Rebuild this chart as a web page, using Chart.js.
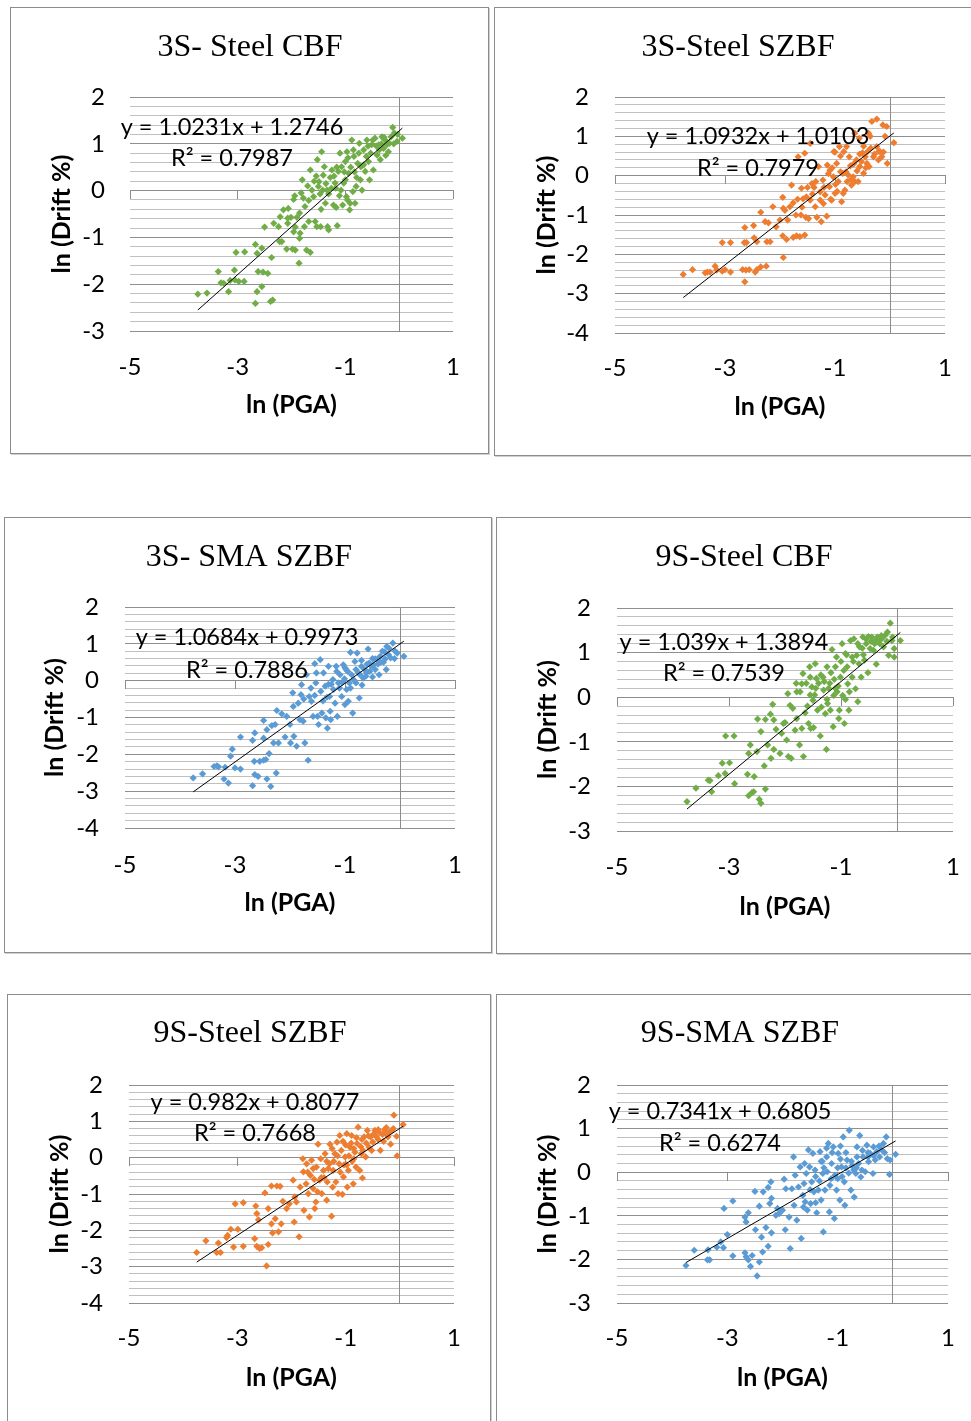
<!DOCTYPE html>
<html>
<head>
<meta charset="utf-8">
<script src="https://cdn.jsdelivr.net/npm/chart.js@4.4.1/dist/chart.umd.min.js"></script>
<style>
  html, body { margin: 0; padding: 0; background: #fff; width: 971px; height: 1421px; overflow: hidden; }
  .panel { position: absolute; box-sizing: border-box; border: 1px solid #8c8c8c; box-shadow: 1px 1px 0 #cfcfcf; }
  canvas { position: absolute; }
</style>
</head>
<body>
<script>
// ---- Data: ln(PGA) vs ln(Drift %) for each frame ----
const titles = ['3S- Steel CBF', '3S-Steel SZBF', '3S- SMA SZBF', '9S-Steel CBF', '9S-Steel SZBF', '9S-SMA SZBF'];
const slopes = [1.0231, 1.0932, 1.0684, 1.039, 0.982, 0.7341];
const intercepts = [1.2746, 1.0103, 0.9973, 1.3894, 0.8077, 0.6805];
const rSquared = [0.7987, 0.7979, 0.7886, 0.7539, 0.7668, 0.6274];
const yMins = [-3, -4, -4, -3, -4, -3];
const yMax = 2;
const xMin = -5, xMax = 1;
const xTitle = 'ln (PGA)';
const yTitle = 'ln (Drift %)';

const steelCbf3S = [
  [-3.74,-2.21],[-3.57,-2.19],[-3.36,-1.73],[-3.31,-1.97],[-3.26,-1.98],[-3.17,-2.16],[-3.14,-1.92],[-3.06,-1.70],
  [-3.05,-1.91],[-2.98,-1.94],[-2.88,-1.94],[-3.03,-1.32],[-2.87,-1.31],[-2.67,-1.15],[-2.64,-1.34],[-2.62,-1.73],
  [-2.53,-1.74],[-2.44,-1.77],[-2.55,-2.05],[-2.64,-2.16],[-2.67,-2.41],[-2.39,-2.37],[-2.35,-2.34],[-2.55,-1.23],
  [-2.50,-0.78],[-2.37,-1.43],[-2.33,-0.70],[-2.22,-1.09],[-2.18,-1.09],[-2.24,-0.77],[-2.21,-0.56],[-2.15,-0.41],
  [-2.07,-0.70],[-2.07,-0.59],[-2.09,-1.25],[-2.01,-0.57],[-1.98,-1.25],[-1.93,-1.27],[-1.86,-1.55],[-1.96,-0.19],
  [-1.94,-0.11],[-1.96,-0.88],[-1.93,-0.78],[-1.90,-0.57],[-1.84,-0.91],[-1.85,-0.48],[-1.80,0.23],[-1.78,-0.16],
  [-1.76,-0.77],[-1.72,-1.27],[-1.65,-1.32],[-1.75,-0.34],[-1.68,-0.21],[-1.65,0.44],[-1.62,0.01],[-1.59,-0.13],
  [-1.56,-0.66],[-1.53,-0.77],[-1.52,0.66],[-1.50,0.09],[-1.47,-0.07],[-1.46,-0.77],[-1.44,0.83],[-1.42,0.01],
  [-1.41,0.33],[-1.37,-0.27],[-1.34,0.01],[-1.33,-0.77],[-1.31,-0.84],[-1.28,0.28],[-1.25,0.44],[-1.22,-0.31],
  [-1.19,0.16],[-1.17,-0.36],[-1.15,-0.75],[-1.13,0.41],[-1.11,-0.11],[-1.10,0.80],[-1.07,0.51],[-1.03,0.16],
  [-1.00,0.62],[-0.98,-0.13],[-0.97,0.83],[-0.94,0.37],[-0.92,-0.41],[-0.91,-0.27],[-0.88,1.08],[-0.86,-0.02],
  [-0.84,0.73],[-0.82,-0.27],[-0.80,0.09],[-0.77,0.58],[-0.74,1.01],[-0.72,0.23],[-0.69,0.01],[-0.66,0.87],
  [-0.63,0.41],[-0.60,1.08],[-0.57,0.62],[-0.55,0.23],[-0.51,0.98],[-0.48,0.44],[-0.45,1.12],[-0.41,0.76],
  [-0.38,0.98],[-0.35,0.66],[-0.32,1.15],[-0.29,0.90],[-0.26,1.08],[-0.23,0.98],[-0.20,0.83],[-0.12,1.35],
  [-0.09,1.23],[-0.04,1.05],[0.06,1.12],[-1.54,0.31],[-1.49,0.19],[-1.39,0.51],[-1.31,-0.07],[-1.26,0.05],
  [-1.21,0.31],[-1.16,0.50],[-1.08,0.01],[-1.05,-0.31],[-1.00,0.23],[-0.96,-0.20],[-0.90,0.50],[-0.85,0.87],
  [-0.79,0.28],[-0.71,0.51],[-0.61,0.73],[-0.53,0.80],[-0.49,1.08],[-0.37,0.87],[-0.28,1.14],[-0.18,1.01],
  [-0.15,1.15],[-1.85,-1.02],[-2.06,-0.38],[-1.68,-0.66],[-1.82,-0.05],[-1.70,0.10],[-1.58,0.20],[-1.45,-0.40],
  [-1.36,0.15],[-1.18,0.05],[-1.02,0.40],[-0.95,0.70],[-0.83,0.40],[-0.75,0.80],[-0.66,0.55],[-0.58,0.95],
  [-0.42,0.95],[-0.33,1.00],[-0.25,0.75],[-0.10,1.00],[-0.03,1.20]
];

const steelSzbf3S = [
  [-3.76,-2.51],[-3.59,-2.39],[-3.36,-2.47],[-3.32,-2.45],[-3.27,-2.45],[-3.18,-2.30],[-3.15,-2.40],[-3.05,-2.43],
  [-3.00,-2.39],[-2.90,-2.45],[-3.05,-1.70],[-2.90,-1.70],[-2.68,-2.39],[-2.62,-2.40],[-2.56,-2.39],[-2.45,-2.45],
  [-2.42,-2.39],[-2.35,-2.32],[-2.25,-2.30],[-2.64,-2.70],[-2.65,-1.70],[-2.61,-1.70],[-2.64,-1.32],[-2.48,-1.27],
  [-2.47,-1.58],[-2.42,-1.68],[-2.35,-0.93],[-2.27,-1.17],[-2.24,-1.68],[-2.18,-1.68],[-2.21,-1.20],[-2.13,-0.79],
  [-2.07,-1.30],[-2.00,-1.13],[-1.95,-0.55],[-1.94,-0.83],[-1.95,-1.53],[-1.94,-2.08],[-1.91,-0.88],[-1.88,-1.62],
  [-1.86,-1.13],[-1.82,-0.79],[-1.79,-0.24],[-1.76,-0.69],[-1.76,-1.57],[-1.71,-1.00],[-1.70,-1.53],[-1.67,0.48],
  [-1.64,-1.55],[-1.61,-0.32],[-1.58,-0.59],[-1.55,-1.51],[-1.53,-1.06],[-1.55,0.57],[-1.52,-0.54],[-1.48,-1.09],
  [-1.45,0.82],[-1.45,-0.62],[-1.42,-0.20],[-1.41,-0.47],[-1.36,-0.79],[-1.33,-1.06],[-1.30,0.23],[-1.27,-0.41],
  [-1.25,-1.17],[-1.22,-0.11],[-1.21,-0.71],[-1.18,-0.49],[-1.15,-1.03],[-1.14,0.27],[-1.10,-0.28],[-1.09,0.14],
  [-1.06,-0.62],[-1.03,-0.03],[-1.02,0.61],[-1.00,-0.45],[-0.97,0.31],[-0.94,-0.15],[-0.92,0.74],[-0.88,-0.66],
  [-0.86,0.06],[-0.84,0.61],[-0.82,-0.37],[-0.79,0.74],[-0.78,-0.15],[-0.74,0.48],[-0.70,-0.24],[-0.67,-0.03],
  [-0.64,1.08],[-0.64,-0.15],[-0.61,0.40],[-0.58,-0.15],[-0.56,0.95],[-0.55,0.23],[-0.52,0.36],[-0.48,0.06],
  [-0.45,0.48],[-0.42,0.31],[-0.41,0.61],[-0.39,1.08],[-0.38,0.23],[-0.36,1.00],[-0.33,1.38],[-0.30,0.48],
  [-0.24,1.44],[-0.24,0.74],[-0.21,0.40],[-0.18,0.61],[-0.15,0.48],[-0.13,1.29],[-0.09,1.00],[-0.06,1.25],
  [-0.05,0.31],[0.07,0.84],[-1.12,0.05],[-1.05,0.20],[-0.99,-0.22],[-0.90,0.10],[-0.76,0.02],[-0.71,-0.10],
  [-0.60,0.12],[-0.50,0.58],[-0.44,0.20],[-1.38,-0.30],[-1.27,-0.62],[-1.60,-0.80],[-1.68,-0.60],[-0.20,0.62],
  [-1.20,-0.30],[-1.08,-0.60],[-0.96,-0.40],[-0.85,-0.45],[-0.80,0.10],[-0.72,0.25],[-0.66,0.30],[-0.55,0.55],
  [-0.48,0.75],[-0.35,0.70],[-0.28,0.55],[-0.12,0.60],[-1.50,-0.30],[-1.35,-0.15],[-1.62,-1.00],[-1.00,0.60],
  [-0.90,0.50]
];

const smaSzbf3S = [
  [-3.76,-2.64],[-3.59,-2.53],[-3.38,-2.33],[-3.33,-2.31],[-3.30,-2.34],[-3.20,-2.67],[-3.12,-2.78],[-3.18,-2.35],
  [-3.08,-2.05],[-3.05,-1.86],[-3.00,-2.37],[-2.90,-2.40],[-2.90,-1.53],[-2.68,-2.85],[-2.64,-2.55],[-2.58,-2.60],
  [-2.65,-2.19],[-2.55,-2.19],[-2.48,-2.16],[-2.44,-2.14],[-2.42,-2.67],[-2.35,-2.87],[-2.25,-2.51],[-2.38,-1.98],
  [-2.68,-1.62],[-2.64,-1.42],[-2.48,-1.08],[-2.42,-1.33],[-2.48,-1.56],[-2.33,-1.22],[-2.27,-1.19],[-2.30,-1.69],
  [-2.21,-1.69],[-2.24,-0.81],[-2.15,-0.90],[-2.09,-1.53],[-2.06,-0.97],[-2.00,-1.19],[-1.99,-1.69],[-1.95,-0.33],
  [-1.94,-0.70],[-1.93,-1.51],[-1.88,-1.78],[-1.85,-0.61],[-1.82,-1.06],[-1.80,-0.38],[-1.79,-0.11],[-1.76,-1.10],
  [-1.73,-1.69],[-1.70,0.16],[-1.67,-2.16],[-1.65,-0.43],[-1.61,-0.56],[-1.58,-0.97],[-1.55,0.46],[-1.53,-0.06],
  [-1.52,0.21],[-1.50,-0.97],[-1.48,-1.19],[-1.45,0.57],[-1.44,-0.29],[-1.42,-0.88],[-1.39,0.21],[-1.36,-0.15],
  [-1.35,-1.01],[-1.32,-1.29],[-1.30,0.39],[-1.28,-0.43],[-1.27,-0.83],[-1.26,-1.06],[-1.22,0.03],[-1.21,-0.24],
  [-1.18,-0.61],[-1.16,0.39],[-1.14,-0.97],[-1.12,-0.06],[-1.09,0.16],[-1.06,-0.43],[-1.03,0.43],[-1.00,-0.65],
  [-0.97,-0.24],[-0.94,-0.56],[-0.92,-0.06],[-0.90,0.77],[-0.88,0.16],[-0.86,-0.88],[-0.82,0.52],[-0.80,-0.06],
  [-0.78,0.75],[-0.74,-0.47],[-0.73,0.16],[-0.70,0.39],[-0.67,0.07],[-0.64,0.30],[-0.61,0.21],[-0.58,0.86],
  [-0.56,0.48],[-0.52,0.39],[-0.48,0.43],[-0.45,0.59],[-0.42,0.57],[-0.38,0.16],[-0.36,0.66],[-0.32,0.80],
  [-0.27,0.59],[-0.25,0.30],[-0.24,0.93],[-0.21,0.71],[-0.17,0.62],[-0.13,1.02],[-0.09,0.80],[-0.05,0.75],
  [0.07,0.66],[-1.10,-0.20],[-1.01,0.05],[-0.95,0.25],[-0.84,0.02],[-0.76,0.22],[-0.69,-0.12],[-0.62,0.12],
  [-0.55,0.25],[-0.50,0.10],[-1.33,-0.45],[-1.25,-0.10],[-1.05,-0.05],[-0.98,0.30],[-0.40,0.45],[-0.30,0.50],
  [-1.55,-0.40],[-1.40,-0.55],[-1.30,-0.10],[-1.15,0.25],[-1.00,0.35],[-0.90,-0.20],[-0.80,0.30],[-0.70,0.55],
  [-0.60,0.45],[-0.50,0.60],[-0.45,0.30],[-0.35,0.50],[-0.28,0.78],[-0.20,0.88],[-0.10,0.60],[-1.62,-0.20],
  [-1.75,-0.50]
];

const steelCbf9S = [
  [-3.75,-2.34],[-3.59,-2.04],[-3.37,-1.86],[-3.34,-1.87],[-3.31,-2.12],[-3.19,-1.76],[-3.12,-1.48],[-3.07,-1.71],
  [-2.99,-1.47],[-3.06,-0.87],[-2.91,-0.87],[-2.90,-1.94],[-2.67,-1.73],[-2.55,-1.78],[-2.65,-2.21],[-2.59,-2.14],
  [-2.56,-2.12],[-2.46,-2.29],[-2.43,-2.38],[-2.35,-2.06],[-2.37,-1.54],[-2.65,-1.26],[-2.62,-1.07],[-2.50,-1.22],
  [-2.49,-0.49],[-2.43,-0.77],[-2.35,-0.50],[-2.31,-1.07],[-2.26,-0.38],[-2.25,-1.37],[-2.22,-0.16],[-2.20,-0.51],
  [-2.20,-1.17],[-2.16,-0.72],[-2.09,-1.26],[-2.06,-0.81],[-2.03,-0.59],[-2.00,-0.57],[-1.97,-0.96],[-1.95,0.08],
  [-1.94,-1.33],[-1.91,-0.18],[-1.89,-1.37],[-1.86,-0.25],[-1.82,-0.74],[-1.80,0.31],[-1.79,0.12],[-1.79,-0.48],
  [-1.74,-1.07],[-1.73,0.12],[-1.70,-0.70],[-1.68,0.53],[-1.67,-1.33],[-1.64,-0.35],[-1.62,0.31],[-1.58,-0.59],
  [-1.56,0.68],[-1.55,0.45],[-1.54,-0.70],[-1.52,0.23],[-1.50,-0.07],[-1.49,-0.68],[-1.46,0.75],[-1.44,0.42],
  [-1.42,-0.29],[-1.40,0.31],[-1.37,-0.87],[-1.35,-0.22],[-1.32,0.45],[-1.31,0.16],[-1.28,-0.37],[-1.26,-1.17],
  [-1.25,0.68],[-1.24,-0.14],[-1.20,0.31],[-1.19,-0.29],[-1.16,1.07],[-1.14,-0.66],[-1.13,0.04],[-1.10,0.68],
  [-1.08,0.90],[-1.07,0.12],[-1.04,-0.48],[-1.03,-0.29],[-1.01,0.45],[-0.98,1.20],[-0.97,0.04],[-0.94,-0.59],
  [-0.92,0.98],[-0.89,0.68],[-0.86,-0.29],[-0.85,0.12],[-0.83,1.27],[-0.80,0.45],[-0.77,1.31],[-0.74,0.19],
  [-0.72,0.94],[-0.70,-0.10],[-0.67,1.13],[-0.64,0.45],[-0.61,1.35],[-0.58,0.83],[-0.55,1.20],[-0.52,0.55],
  [-0.51,1.36],[-0.48,1.09],[-0.45,1.35],[-0.42,1.05],[-0.39,1.27],[-0.37,0.74],[-0.35,1.35],[-0.31,1.20],
  [-0.27,1.31],[-0.24,1.13],[-0.21,1.39],[-0.17,1.46],[-0.15,0.94],[-0.12,1.66],[-0.09,1.27],[-0.05,1.09],
  [-0.05,0.90],[0.06,1.27],[-1.22,0.20],[-1.12,0.40],[-1.05,0.25],[-0.95,0.60],[-0.88,0.30],[-0.78,0.80],
  [-0.68,0.75],[-0.60,0.95],[-0.46,1.25],[-0.33,1.28],[-1.47,0.05],[-1.36,0.50],[-1.60,-0.20],[-0.92,-0.05],
  [-1.70,0.30],[-1.55,0.05],[-1.45,0.20],[-1.30,0.35],[-1.18,0.55],[-1.10,0.20],[-1.00,0.80],[-0.90,0.95],
  [-0.80,0.90],[-0.70,1.20],[-0.62,1.10],[-0.55,1.30],[-0.40,1.20],[-0.28,1.38],[-0.18,1.25],[-0.08,1.35],
  [-1.25,-0.05]
];

const steelSzbf9S = [
  [-3.75,-2.61],[-3.58,-2.29],[-3.35,-2.35],[-3.38,-2.61],[-3.31,-2.61],[-3.20,-2.20],[-3.18,-2.14],[-3.12,-1.97],
  [-3.07,-2.46],[-2.99,-1.97],[-3.04,-1.27],[-2.89,-1.24],[-2.89,-2.44],[-2.68,-2.23],[-2.64,-2.44],[-2.59,-2.50],
  [-2.55,-2.48],[-2.46,-2.98],[-2.43,-2.39],[-2.66,-1.33],[-2.64,-1.54],[-2.61,-1.71],[-2.49,-0.97],[-2.43,-1.40],
  [-2.37,-1.82],[-2.35,-2.07],[-2.30,-1.68],[-2.24,-2.04],[-2.37,-0.78],[-2.27,-0.78],[-2.21,-0.79],[-2.19,-1.82],
  [-2.16,-1.20],[-2.09,-1.40],[-2.04,-1.27],[-1.97,-0.62],[-1.95,-1.77],[-1.94,-1.08],[-1.91,-1.22],[-1.86,-2.18],
  [-1.84,-0.81],[-1.79,-0.03],[-1.78,-0.39],[-1.77,-1.45],[-1.73,-0.72],[-1.72,-0.17],[-1.69,-0.99],[-1.67,-1.63],
  [-1.65,-0.49],[-1.63,-0.07],[-1.60,-0.85],[-1.57,-1.40],[-1.55,-1.22],[-1.54,-0.26],[-1.52,-0.94],[-1.51,0.37],
  [-1.48,-0.62],[-1.46,-0.03],[-1.44,-0.99],[-1.41,-0.35],[-1.38,0.11],[-1.35,-1.17],[-1.34,-0.67],[-1.30,-0.17],
  [-1.29,0.37],[-1.26,-1.61],[-1.24,-0.81],[-1.23,-0.35],[-1.20,0.11],[-1.18,-0.67],[-1.16,0.43],[-1.14,-0.99],
  [-1.12,-0.17],[-1.11,0.61],[-1.08,0.20],[-1.06,-1.01],[-1.04,-0.53],[-1.01,0.02],[-0.98,0.66],[-0.97,-0.81],
  [-0.95,-0.35],[-0.92,0.29],[-0.89,0.61],[-0.86,-0.72],[-0.85,-0.03],[-0.81,-0.26],[-0.79,0.39],[-0.77,0.84],
  [-0.74,-0.35],[-0.71,0.11],[-0.69,-0.56],[-0.66,0.57],[-0.63,0.02],[-0.60,0.75],[-0.57,0.29],[-0.54,0.57],
  [-0.50,0.43],[-0.46,0.75],[-0.43,0.57],[-0.40,0.77],[-0.36,0.20],[-0.32,0.64],[-0.28,0.77],[-0.25,0.83],
  [-0.22,0.57],[-0.17,0.37],[-0.15,0.75],[-0.11,1.17],[-0.06,0.59],[-0.05,0.05],[0.06,0.91],[-1.22,-0.10],
  [-1.15,0.05],[-1.03,-0.20],[-0.94,0.05],[-0.83,0.15],[-0.72,0.30],[-0.62,0.40],[-0.52,0.20],[-1.40,-0.55],
  [-1.32,-0.30],[-1.58,-0.60],[-1.00,0.35],[-0.88,-0.10],[-0.68,0.20],[-0.40,0.50],[-0.30,0.45],[-0.20,0.70],
  [-1.70,-0.40],[-1.60,-0.30],[-1.45,-0.55],[-1.35,-0.10],[-1.25,0.25],[-1.10,-0.40],[-0.98,-0.20],[-0.90,0.40],
  [-0.80,0.55],[-0.70,0.50],[-0.58,0.60],[-0.48,0.65],[-0.38,0.70],[-0.25,0.65],[-0.12,0.80],[-1.05,0.45],
  [-0.85,0.25]
];

const smaSzbf9S = [
  [-3.75,-2.14],[-3.60,-1.79],[-3.36,-2.01],[-3.32,-2.01],[-3.35,-1.78],[-3.19,-1.72],[-3.12,-1.60],[-3.07,-1.73],
  [-3.00,-1.43],[-3.06,-0.83],[-2.90,-0.66],[-2.90,-1.92],[-2.68,-1.85],[-2.66,-1.94],[-2.62,-2.01],[-2.58,-2.16],
  [-2.55,-1.91],[-2.46,-2.38],[-2.42,-2.06],[-2.36,-1.83],[-2.68,-1.03],[-2.66,-1.14],[-2.62,-0.93],[-2.50,-0.44],
  [-2.49,-1.32],[-2.42,-0.78],[-2.38,-1.49],[-2.35,-0.45],[-2.30,-1.27],[-2.26,-1.70],[-2.26,-0.35],[-2.23,-0.72],
  [-2.21,-0.22],[-2.20,-1.39],[-2.20,-0.60],[-2.12,-0.99],[-2.09,-0.83],[-2.06,-0.95],[-2.00,-0.87],[-1.97,-0.16],
  [-1.95,-1.32],[-1.94,-0.38],[-1.88,-1.03],[-1.86,-1.75],[-1.83,-0.38],[-1.80,0.35],[-1.79,-0.76],[-1.77,-0.07],
  [-1.74,-1.10],[-1.71,-0.34],[-1.68,0.12],[-1.66,-1.52],[-1.63,-0.53],[-1.61,-0.26],[-1.59,-0.68],[-1.57,-0.03],
  [-1.55,-0.87],[-1.53,0.51],[-1.51,0.12],[-1.49,-0.72],[-1.47,-0.22],[-1.45,0.43],[-1.43,-0.45],[-1.41,0.05],
  [-1.38,-0.93],[-1.35,-0.41],[-1.32,0.47],[-1.30,-0.64],[-1.27,-0.03],[-1.26,-1.37],[-1.23,-0.41],[-1.20,0.35],
  [-1.19,0.01],[-1.17,0.66],[-1.15,-0.91],[-1.14,-0.30],[-1.11,0.20],[-1.08,0.58],[-1.06,-1.06],[-1.05,-0.07],
  [-1.02,-0.41],[-0.99,0.43],[-0.96,-0.64],[-0.93,0.12],[-0.90,0.81],[-0.88,-0.22],[-0.87,-0.76],[-0.83,0.28],
  [-0.80,-0.02],[-0.79,0.96],[-0.76,-0.41],[-0.71,0.05],[-0.70,-0.57],[-0.67,-0.03],[-0.65,0.58],[-0.62,0.20],
  [-0.60,0.84],[-0.58,-0.11],[-0.54,0.35],[-0.50,0.01],[-0.47,0.62],[-0.44,0.24],[-0.41,0.43],[-0.36,-0.03],
  [-0.35,0.58],[-0.32,0.28],[-0.29,0.47],[-0.24,0.35],[-0.20,0.51],[-0.17,0.66],[-0.12,0.81],[-0.10,0.31],
  [-0.06,-0.05],[-0.05,0.28],[0.05,0.41],[-1.25,0.10],[-1.12,-0.15],[-1.00,0.10],[-0.92,-0.10],[-0.85,0.10],
  [-0.74,0.15],[-0.66,0.10],[-0.56,0.05],[-0.45,0.35],[-1.40,-0.70],[-1.33,-0.20],[-1.28,0.25],[-0.95,0.60],
  [-1.60,0.20],[-1.50,-0.40],[-1.40,-0.10],[-1.30,0.25],[-1.20,0.55],[-1.10,0.45],[-1.00,-0.15],[-0.95,0.30],
  [-0.85,0.45],[-0.75,0.25],[-0.65,0.35],[-0.55,0.50],[-0.45,0.45],[-0.35,0.38],[-0.25,0.60],[-0.15,0.45],
  [-1.62,-0.80]
];

const seriesPoints = [steelCbf3S, steelSzbf3S, smaSzbf3S, steelCbf9S, steelSzbf9S, smaSzbf9S];

// ---- Styling and page layout (page pixel coordinates) ----
const markerColors = ['#70ad47', '#ed7d31', '#5b9bd5', '#70ad47', '#ed7d31', '#5b9bd5'];
const layout = [
  { box: {x: 10,  y: 7,   w: 479, h: 447}, plot: {l: 130, r: 453, t: 97,   b: 331},  title: [250, 48],   yLabelRight: 105, xLabelY: 367,  xTitleY: 405,  yTitleX: 62,  eq: [232, 127, 158] },
  { box: {x: 494, y: 7,   w: 489, h: 449}, plot: {l: 615, r: 945, t: 97,   b: 333},  title: [738, 48],   yLabelRight: 589, xLabelY: 368,  xTitleY: 407,  yTitleX: 547, eq: [758, 136, 168] },
  { box: {x: 4,   y: 517, w: 488, h: 436}, plot: {l: 125, r: 455, t: 607,  b: 828},  title: [249, 558],  yLabelRight: 99,  xLabelY: 865,  xTitleY: 903,  yTitleX: 55,  eq: [247, 637, 670] },
  { box: {x: 496, y: 517, w: 496, h: 437}, plot: {l: 617, r: 953, t: 608,  b: 831},  title: [744, 558],  yLabelRight: 591, xLabelY: 867,  xTitleY: 907,  yTitleX: 548, eq: [724, 642, 673] },
  { box: {x: 7,   y: 994, w: 484, h: 440}, plot: {l: 129, r: 454, t: 1085, b: 1303}, title: [250, 1034], yLabelRight: 103, xLabelY: 1338, xTitleY: 1378, yTitleX: 60,  eq: [255, 1102, 1133] },
  { box: {x: 496, y: 994, w: 488, h: 440}, plot: {l: 617, r: 948, t: 1085, b: 1303}, title: [740, 1034], yLabelRight: 591, xLabelY: 1338, xTitleY: 1378, yTitleX: 548, eq: [720, 1111, 1143] }
];

const FONT_SANS = 'Lato';
const FONT_SERIF = '"Liberation Serif"';
const TITLE_SIZE = 32, TICK_SIZE = 24, AXIS_TITLE_SIZE = 25, EQ_SIZE = 23.5;
const GRID_MAJOR = '#8f8f8f', GRID_MINOR = '#c0c0c0', AXIS_LINE = '#8c8c8c';

const isWhole = v => Math.abs(v - Math.round(v)) < 1e-6;

// Writes the fitted-line equation and R² above the points
const trendLabel = {
  id: 'trendLabel',
  afterDatasetsDraw(chart, args, opts) {
    const ctx = chart.ctx;
    ctx.save();
    ctx.font = `${EQ_SIZE}px ${FONT_SANS}`;
    ctx.fillStyle = '#000';
    ctx.textAlign = 'center';
    ctx.textBaseline = 'middle';
    opts.lines.forEach((t, i) => ctx.fillText(t, opts.x, opts.y[i]));
    ctx.restore();
  }
};

function buildPanel(i) {
  const L = layout[i];
  const bx = L.box.x, by = L.box.y, W = L.box.w, H = L.box.h;

  const frame = document.createElement('div');
  frame.className = 'panel';
  Object.assign(frame.style, { left: bx + 'px', top: by + 'px', width: W + 'px', height: H + 'px' });
  document.body.appendChild(frame);

  const canvas = document.createElement('canvas');
  canvas.width = W; canvas.height = H;
  Object.assign(canvas.style, { left: bx + 'px', top: by + 'px', width: W + 'px', height: H + 'px' });
  document.body.appendChild(canvas);

  const plotL = L.plot.l - bx, plotR = L.plot.r - bx, plotT = L.plot.t - by, plotB = L.plot.b - by;
  const padRight = W - plotR;
  const titleCx = L.title[0] - bx, titleCy = L.title[1] - by;
  const padLeft = 2 * titleCx - (W - padRight);          // centres the chart title on titleCx
  const yAxisWidth = plotL - padLeft;
  const xAxisHeight = H - plotB;
  const titleLH = TITLE_SIZE * 1.2, tickLH = TICK_SIZE * 1.2, axisLH = AXIS_TITLE_SIZE * 1.2;
  const titleTop = titleCy - titleLH / 2;
  const titleBottom = plotT - titleTop - titleLH;

  const pts = seriesPoints[i].map(p => ({ x: p[0], y: p[1] }));
  const xs = seriesPoints[i].map(p => p[0]);
  const x0 = Math.min(...xs), x1 = Math.max(...xs);
  const m = slopes[i], b = intercepts[i];
  const fitLine = [{ x: x0, y: m * x0 + b }, { x: x1, y: m * x1 + b }];

  const tickFont = { family: FONT_SANS, size: TICK_SIZE };
  const axisFont = { family: FONT_SANS, size: AXIS_TITLE_SIZE, weight: 'bold' };

  new Chart(canvas, {
    type: 'scatter',
    data: {
      datasets: [
        { data: fitLine, showLine: true, borderColor: '#000', borderWidth: 1, pointRadius: 0, order: 0 },
        { data: pts, pointStyle: 'rectRot', pointRadius: 3.6, backgroundColor: markerColors[i],
          borderColor: markerColors[i], borderWidth: 0, order: 1 }
      ]
    },
    options: {
      responsive: false,
      animation: false,
      devicePixelRatio: 1,
      layout: { padding: { left: padLeft, right: padRight, top: 0, bottom: 0 } },
      plugins: {
        legend: { display: false },
        tooltip: { enabled: false },
        title: {
          display: true, text: titles[i], color: '#000',
          font: { family: FONT_SERIF, size: TITLE_SIZE, weight: 'normal' },
          padding: { top: titleTop, bottom: titleBottom }
        },
        trendLabel: {
          lines: [`y = ${slopes[i]}x + ${intercepts[i]}`, `R² = ${rSquared[i]}`],
          x: L.eq[0] - bx, y: [L.eq[1] - by, L.eq[2] - by]
        }
      },
      scales: {
        x: {
          type: 'linear', position: 'bottom', min: xMin, max: xMax,
          afterFit: s => { s.height = xAxisHeight; },
          grid: { display: false, drawTicks: false }, border: { display: false },
          ticks: { stepSize: 2, color: '#000', font: tickFont, maxRotation: 0,
                   padding: (L.xLabelY - by) - plotB - tickLH / 2 },
          title: { display: true, text: xTitle, color: '#000', font: axisFont,
                   padding: { top: 0, bottom: H - (L.xTitleY - by) - axisLH / 2 } }
        },
        y: {
          type: 'linear', position: 'left', min: yMins[i], max: yMax,
          afterFit: s => { s.width = yAxisWidth; },
          border: { display: false },
          grid: { drawTicks: false, lineWidth: 1,
                  color: c => isWhole(c.tick.value) ? GRID_MAJOR : GRID_MINOR },
          ticks: { stepSize: 0.2, autoSkip: false, color: '#000', font: tickFont,
                   padding: plotL - (L.yLabelRight - bx),
                   callback: v => isWhole(v) ? String(Math.round(v)) : '' },
          title: { display: true, text: yTitle, color: '#000', font: axisFont,
                   padding: { top: (L.yTitleX - bx) - padLeft - axisLH / 2, bottom: 0 } }
        },
        // horizontal axis crossing at ln(Drift) = 0
        xZero: {
          type: 'linear', axis: 'x', position: { y: 0 }, min: xMin, max: xMax,
          ticks: { display: false, stepSize: 2 },
          grid: { drawOnChartArea: false, drawTicks: true, tickLength: 8, color: AXIS_LINE },
          border: { display: true, color: AXIS_LINE }
        },
        // vertical axis crossing at ln(PGA) = 0
        yZero: {
          type: 'linear', axis: 'y', position: { x: 0 }, min: yMins[i], max: yMax,
          ticks: { display: false, stepSize: 1 },
          grid: { drawOnChartArea: false, drawTicks: true, tickLength: 7, color: AXIS_LINE },
          border: { display: true, color: AXIS_LINE }
        }
      }
    },
    plugins: [trendLabel]
  });
}

const fontsReady = Promise.all([
  document.fonts.load(`${TICK_SIZE}px ${FONT_SANS}`),
  document.fonts.load(`bold ${AXIS_TITLE_SIZE}px ${FONT_SANS}`),
  document.fonts.load(`${TITLE_SIZE}px ${FONT_SERIF}`)
]).catch(() => {});

fontsReady.then(() => { for (let i = 0; i < layout.length; i++) buildPanel(i); });
</script>
</body>
</html>
